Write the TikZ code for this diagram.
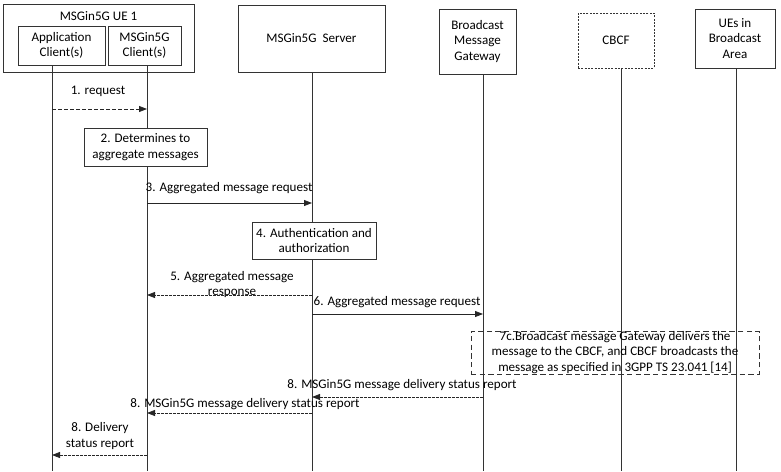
\documentclass[tikz,border=0pt]{standalone}
\usepackage{fontspec}
\setmainfont{Carlito}
\usetikzlibrary{arrows.meta}
\tikzstyle{entity} = [rectangle, draw = black!80, line width = 0.6pt,
  align = center, inner sep = 0pt, text = black]
\tikzstyle{action} = [rectangle, draw = black!80, fill = white, line width =
  0.6pt, align = center, inner sep = 0pt, text = black]
\tikzstyle{note} = [rectangle, draw = black!80, line width = 0.6pt, dash
  pattern = on 4pt off 2.5pt, align = center, inner sep = 0pt, text = black]
\tikzstyle{lifeline} = [draw = black!80, line width = 0.6pt]
\tikzstyle{arrow} = [draw = black!85, line width = 0.6pt,
  -{Triangle[length = 6pt, width = 4.5pt]}]
\tikzstyle{reply} = [arrow, dash pattern = on 2pt off 1pt]
\tikzstyle{msgtext} = [align = center, inner sep = 0pt, text = black]

\begin{document}
\begin{tikzpicture}[x = 0.75pt, y = -0.75pt, font = \fontsize{9.8}{11.5}\selectfont]
  \useasboundingbox (0,0) rectangle (781,471);

  \node (ue-1) [entity, minimum width = 143.25pt, minimum height = 51pt] at (98.5,38) {};
  \node (ue-1-title) [msgtext] at (98.5,16) {MSGin5G UE 1};
  \node (app) [entity, minimum width = 65.25pt, minimum height = 29.25pt] at (61.5,45.5) {Application\\Client(s)};
  \node (client) [entity, minimum width = 54.75pt, minimum height = 29.25pt] at (144.5,45.5) {MSGin5G\\Client(s)};
  \node (server) [entity, minimum width = 110.25pt, minimum height = 50.25pt] at (311.5,38.5) {MSGin5G~~Server};
  \node (gateway) [entity, minimum width = 57.75pt, minimum height = 48.75pt] at (477.5,41.5) {Broadcast\\Message\\Gateway};
  \node (cbcf) [entity, dash pattern = on 1.5pt off 1pt, minimum width = 57pt, minimum height = 41.25pt] at (616,40.5) {CBCF};
  \node (ues) [entity, minimum width = 60pt, minimum height = 44.25pt] at (735,38.5) {UEs in\\Broadcast\\Area};

  \coordinate (app-end) at (52,471);
  \coordinate (client-end) at (147,471);
  \coordinate (server-end) at (312,471);
  \coordinate (gateway-end) at (483,471);
  \coordinate (cbcf-end) at (621,471);
  \coordinate (ues-end) at (736,471);

  \draw [lifeline] (app.south -| app-end) -- (app-end);
  \draw [lifeline] (client.south -| client-end) -- (client-end);
  \draw [lifeline] (server.south -| server-end) -- (server-end);
  \draw [lifeline] (gateway.south -| gateway-end) -- (gateway-end);
  \draw [lifeline] (cbcf.south -| cbcf-end) -- (cbcf-end);
  \draw [lifeline] (ues.south -| ues-end) -- (ues-end);

  \node (step-2) [action, minimum width = 92.25pt, minimum height = 28.5pt] at (145.5,147) {2. Determines to\\aggregate messages};
  \node (step-4) [action, minimum width = 93pt, minimum height = 27.75pt] at (314,240.5) {4. Authentication and\\authorization};
  \node (step-7c) [note, minimum width = 216pt, minimum height = 32.25pt] at (615,352.5) {7c.Broadcast message Gateway delivers the\\message to the CBCF, and CBCF broadcasts the\\message as specified in 3GPP TS 23.041 [14]};

  \node (msg-1) [msgtext] at (98,91) {1. request};
  \node (msg-3) [msgtext] at (229,188) {3. Aggregated message request};
  \node (msg-5) [msgtext] at (232,284.5) {5. Aggregated message\\response};
  \node (msg-6) [msgtext] at (397,302) {6. Aggregated message request};
  \node (msg-8a) [msgtext] at (402,385) {8. MSGin5G message delivery status report};
  \node (msg-8b) [msgtext] at (245,404) {8. MSGin5G message delivery status report};
  \node (msg-8c) [msgtext] at (100,436) {8. Delivery\\status report};

  \draw [arrow, dash pattern = on 3pt off 1.5pt] (app-end |- 0,109) -- (client-end |- 0,109);
  \draw [arrow] (client-end |- 0,203) -- (server-end |- 0,203);
  \draw [reply] (server-end |- 0,295) -- (client-end |- 0,295);
  \draw [arrow] (server-end |- 0,314) -- (gateway-end |- 0,314);
  \draw [reply] (gateway-end |- 0,397) -- (server-end |- 0,397);
  \draw [reply] (server-end |- 0,413) -- (client-end |- 0,413);
  \draw [reply] (client-end |- 0,455) -- (app-end |- 0,455);
\end{tikzpicture}
\end{document}
